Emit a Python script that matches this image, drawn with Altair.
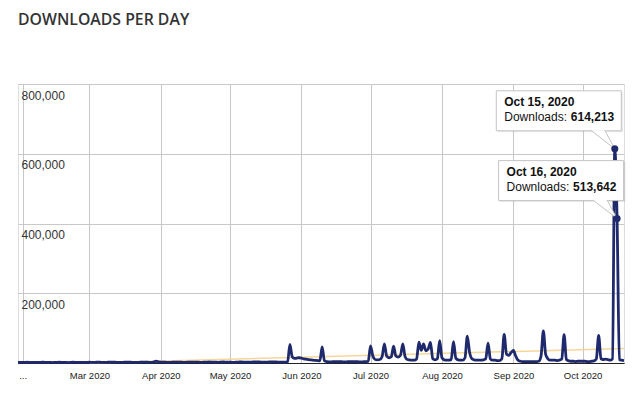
import altair as alt
import pandas as pd

# ---- daily downloads, 2020-01-30 .. 2020-10-19 ----
jan = [1500, 1400]
feb = [1800, 1600, 2100, 1900, 1700, 1500, 1400, 1900, 2000, 2200, 1800, 1700, 1500, 1300,
       1800, 2000, 2100, 1900, 1600, 1400, 1300, 1900, 2200, 2000, 1800, 1700, 1500, 1400, 2000]
mar = [2100, 1900, 1800, 2200, 2300, 2000, 1700, 1600, 2100, 2300, 2400, 2200, 2000, 1800,
       1700, 2200, 2400, 2300, 2100, 2000, 1800, 1700, 2300, 2500, 2400, 2200, 2000, 1900,
       3500, 5000, 3000]
apr = [2400, 2300, 2100, 1900, 1800, 2400, 2500, 2600, 2400, 2200, 1900, 1800, 2500, 2600,
       2700, 2500, 2300, 2000, 1900, 2600, 2700, 2800, 2600, 2400, 2100, 2000, 2700, 2800,
       2700, 2500]
may = [2300, 2000, 1900, 2700, 2800, 2900, 2700, 2500, 2200, 2100, 2800, 2900, 3000, 2800,
       2600, 2300, 2200, 2900, 3000, 3100, 2900, 2700, 2400, 2300, 2400, 2800, 53000, 18000,
       13000, 14000, 15000]
jun = [14000, 12000, 11000, 10000, 9000, 8000, 7500, 7000, 6000, 46000, 6000, 4000, 3500,
       3500, 4000, 4200, 4000, 3800, 3500, 3300, 3600, 4000, 4200, 4000, 3800, 3500, 3300,
       3600, 4000, 4500]
jul = [49000, 20000, 10000, 9000, 10000, 18000, 55000, 20000, 15000, 18000, 48000, 20000,
       17000, 22000, 55000, 18000, 10000, 9000, 8000, 8000, 12000, 60000, 36000, 55000,
       35000, 40000, 59000, 12000, 9000, 12000, 64000]
aug = [15000, 9000, 8000, 8000, 10000, 61000, 14000, 9000, 8000, 8000, 15000, 77000, 30000,
       12000, 9000, 8000, 8000, 8000, 9000, 12000, 57000, 12000, 8000, 8000, 7000, 7000,
       12000, 82000, 25000, 22000, 30000]
sep = [36000, 20000, 8000, 5000, 4000, 4000, 4000, 4000, 4000, 4000, 4000, 5000, 20000,
       92000, 25000, 12000, 8000, 8000, 8000, 7000, 8000, 12000, 81000, 10000, 6000, 5000,
       5000, 4000, 5000, 5000]
oct_ = [5000, 5000, 4000, 4000, 5000, 6000, 12000, 79000, 12000, 10000, 11000, 10000,
        8000, 12000, 614213, 414000, 10000, 8000, 7000]

values = jan + feb + mar + apr + may + jun + jul + aug + sep + oct_
dates = pd.date_range("2020-01-30", periods=len(values), freq="D").strftime("%Y-%m-%d")
line_df = pd.DataFrame({"date": dates, "value": values})

# ---- trend line ----
trend_dates = ["2020-03-01", "2020-10-19"]
trend_values = [0, 41500]
trend_df = pd.DataFrame({"date": trend_dates, "value": trend_values})

# ---- tooltips ----
tip_dates = ["2020-10-15", "2020-10-16"]
tip_titles = ["Oct 15, 2020", "Oct 16, 2020"]
tip_numbers = ["614,213", "513,642"]
lookup = dict(zip(line_df["date"], line_df["value"]))
tip_df = pd.DataFrame({
    "date": tip_dates,
    "value": [lookup[d] for d in tip_dates],
    "title": tip_titles,
    "number": tip_numbers,
    "dl": ["Downloads: "] * len(tip_dates),
})

NAVY = "#1f2a6c"
FONT = "Liberation Sans"

month_ticks = [alt.DateTime(year=2020, month=m, date=1, utc=True) for m in range(2, 11)]

x_enc = alt.X(
    "date:T",
    title=None,
    scale=alt.Scale(type="utc", domain=[alt.DateTime(year=2020, month=1, date=30, utc=True),
                                        alt.DateTime(year=2020, month=10, date=19, utc=True)]),
    axis=alt.Axis(
        values=month_ticks,
        labelExpr="utcFormat(datum.value, '%m') == '02' ? '...' : utcFormat(datum.value, '%b %Y')",
        grid=True, gridColor="#c8c8c8", gridWidth=1,
        domain=True, domainColor="#222222", domainWidth=1,
        ticks=False, tickSize=0,
        labelFont=FONT, labelFontSize=9.5, labelColor="#222222",
        labelPadding=7, labelBaseline="top", labelAlign="center",
    ),
)
y_enc = alt.Y(
    "value:Q",
    title=None,
    scale=alt.Scale(domain=[0, 800000], nice=False),
    axis=alt.Axis(
        values=[100000 * i for i in range(0, 9)],
        labelExpr="datum.value % 200000 === 0 && datum.value > 0 ? format(datum.value, ',') : ''",
        grid=True,
        gridColor={"condition": {"test": "datum.value % 200000 === 0", "value": "#c8c8c8"},
                   "value": "#e4e4e4"},
        domain=False, ticks=False, tickSize=0,
        labelFont=FONT, labelFontSize=12, labelColor="#333333",
        labelAlign="left", labelBaseline="top", labelPadding=-3, labelOffset=6,
        minExtent=0, maxExtent=0,
    ),
)

trend = alt.Chart(trend_df).mark_line(color="#f6cf86", strokeWidth=1.5, opacity=0.85).encode(
    x=x_enc, y=y_enc)

line = alt.Chart(line_df).mark_line(color=NAVY, strokeWidth=2.8, interpolate="monotone").encode(
    x=alt.X("date:T", title=None), y=alt.Y("value:Q", title=None))

base_tip = alt.Chart(tip_df).encode(
    x=alt.X("date:T", title=None), y=alt.Y("value:Q", title=None))

shadow = base_tip.mark_rect(fill="#000000", opacity=0.08, xOffset=-117, x2Offset=8.5,
                            yOffset=-56.5, y2Offset=-16.5).encode(
    x2=alt.X2("date:T"), y2=alt.Y2("value:Q"))
box = base_tip.mark_rect(fill="white", stroke="#c4c4c4", strokeWidth=1, xOffset=-118.5,
                         x2Offset=6.5, yOffset=-58, y2Offset=-18).encode(
    x2=alt.X2("date:T"), y2=alt.Y2("value:Q"))
pointer = base_tip.mark_point(shape="M-24,-18.5L0,0L-10,-18.5", size=4, filled=True,
                              fill="white", stroke="#c4c4c4", strokeWidth=1, opacity=1)
t_title = base_tip.mark_text(align="left", baseline="alphabetic", dx=-110.5, dy=-43,
                             font=FONT, fontSize=12, fontWeight="bold", color="#111111").encode(
    text="title:N")
t_dl = base_tip.mark_text(align="left", baseline="alphabetic", dx=-110.5, dy=-27.5,
                          font=FONT, fontSize=12, color="#111111").encode(text="dl:N")
t_num = base_tip.mark_text(align="left", baseline="alphabetic", dx=-44, dy=-27.5,
                           font=FONT, fontSize=12, fontWeight="bold", color="#111111").encode(
    text="number:N")
dots = base_tip.mark_circle(color=NAVY, size=50, opacity=1)

chart = alt.layer(trend, line, shadow, box, pointer, t_title, t_dl, t_num, dots).properties(
    width=606,
    height=279,
    autosize=alt.AutoSizeParams(type="none"),
    padding={"left": 10, "top": 76, "right": 10, "bottom": 25},
    title=alt.TitleParams("DOWNLOADS PER DAY", anchor="start", frame="group",
                          font="Open Sans", fontSize=15.8, fontWeight=600,
                          color="#333333", offset=55),
).configure_view(strokeWidth=0).configure(background="white")

chart.save("out.html", embed_options={"renderer": "svg", "actions": False})
